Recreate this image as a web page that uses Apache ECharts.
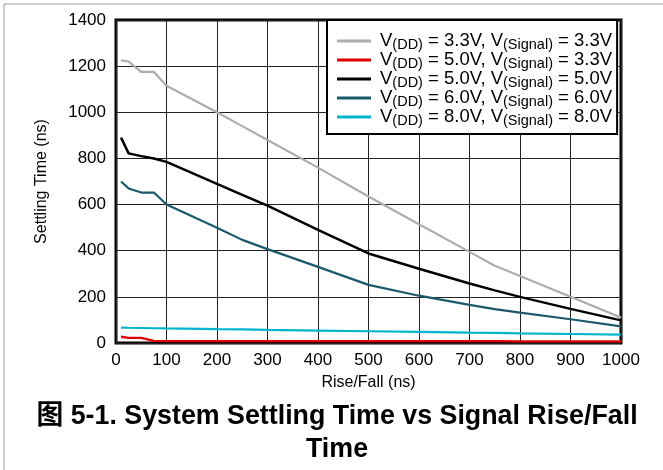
<!DOCTYPE html>
<html><head><meta charset="utf-8">
<script src="https://cdn.jsdelivr.net/npm/echarts@6/dist/echarts.min.js"></script>
<style>html,body{margin:0;padding:0;background:#fff}#c{width:663px;height:470px}</style>
</head><body><div id="c"></div>
<script>
var riseFall = [10, 25, 50, 75, 100, 200, 250, 300, 400, 500, 600, 700, 750, 800, 900, 1000];
var vdd33sig33 = [1225, 1220, 1175, 1175, 1115, 1000, 940, 880, 760, 635, 515, 395, 335, 290, 200, 110];
var vdd50sig33 = [27, 22, 22, 9, 8, 8, 8, 8, 8, 8, 8, 8, 8, 7, 7, 7];
var vdd50sig50 = [890, 822, 810, 800, 785, 690, 642, 595, 490, 388, 322, 258, 228, 200, 148, 98];
var vdd60sig60 = [700, 670, 652, 652, 600, 500, 447, 407, 330, 252, 205, 165, 147, 132, 103, 72];
var vdd80sig80 = [67, 66, 65, 64, 63, 60, 59, 57, 54, 51, 48, 45, 44, 42, 39, 36];
var seriesNames = ['a', 'b', 'c', 'd', 'e'];
var vddLabels = ['3.3V', '5.0V', '5.0V', '6.0V', '8.0V'];
var sigLabels = ['3.3V', '3.3V', '5.0V', '6.0V', '8.0V'];
var seriesColors = ['#adadad', '#e00000', '#000000', '#1b5a6b', '#00b5cc'];
var seriesWidths = [2.2, 2.4, 2.5, 2.2, 2.2];
var seriesData = [vdd33sig33, vdd50sig33, vdd50sig50, vdd60sig60, vdd80sig80];
var xTicks = [0, 100, 200, 300, 400, 500, 600, 700, 800, 900, 1000];
var yTicks = [0, 200, 400, 600, 800, 1000, 1200, 1400];

var FONT = 'Arial, "Liberation Sans", Helvetica, sans-serif';
var chart = echarts.init(document.getElementById('c'), null, {renderer: 'canvas'});
var series = seriesNames.map(function (n, i) {
  return {
    name: n, type: 'line', showSymbol: false, symbol: 'none',
    lineStyle: {color: seriesColors[i], width: seriesWidths[i]},
    itemStyle: {color: seriesColors[i]},
    data: riseFall.map(function (x, j) { return [x, seriesData[i][j]]; }),
    z: 3
  };
});
chart.setOption({
  animation: false,
  backgroundColor: '#fff',
  title: {
    text: '图 5-1. System Settling Time vs Signal Rise/Fall\nTime',
    left: 332, top: 395, textAlign: 'center',
    textStyle: {fontFamily: FONT + ', "Noto Sans CJK SC"', fontWeight: 'bold', fontSize: 26.8, lineHeight: 33, color: '#000'}
  },
  grid: {left: 116, right: 42, top: 20, bottom: 127, show: true, borderColor: '#000', borderWidth: 3, backgroundColor: 'transparent'},
  xAxis: {
    type: 'value', min: 0, max: 1000, interval: 100,
    name: 'Rise/Fall (ns)', nameLocation: 'middle', nameGap: 32,
    nameTextStyle: {fontFamily: FONT, fontSize: 16, color: '#000'},
    axisLine: {show: false}, axisTick: {show: false},
    axisLabel: {fontFamily: FONT, fontSize: 17, color: '#000', margin: 9,
      formatter: function (v) { return xTicks.indexOf(v) >= 0 ? String(v) : ''; }},
    splitLine: {show: true, lineStyle: {color: '#222', width: 1}}
  },
  yAxis: {
    type: 'value', min: 0, max: 1400, interval: 200,
    name: 'Settling Time (ns)', nameLocation: 'middle', nameGap: 66, nameRotate: 90,
    nameTextStyle: {fontFamily: FONT, fontSize: 16, color: '#000'},
    axisLine: {show: false}, axisTick: {show: false},
    axisLabel: {fontFamily: FONT, fontSize: 17, color: '#000', margin: 10,
      formatter: function (v) { return yTicks.indexOf(v) >= 0 ? String(v) : ''; }},
    splitLine: {show: true, lineStyle: {color: '#222', width: 1}}
  },
  legend: {
    orient: 'vertical', left: 327, top: 20,
    data: seriesNames,
    icon: 'rect', itemWidth: 34, itemHeight: 3, itemGap: -3,
    padding: [10, 5, 6, 10],
    backgroundColor: '#fff', borderColor: '#000', borderWidth: 2,
    z: 10,
    formatter: function (name) {
      var i = seriesNames.indexOf(name);
      return '{m|V}{s|(DD)}{m| = ' + vddLabels[i] + ', V}{s|(Signal)}{m| = ' + sigLabels[i] + '}';
    },
    textStyle: {
      fontFamily: FONT, color: '#000', padding: [0, 0, 0, 4],
      rich: {
        m: {fontFamily: FONT, fontSize: 18.5, lineHeight: 19, color: '#000'},
        s: {fontFamily: FONT, fontSize: 14.5, lineHeight: 12, color: '#000', padding: [7, 0, 0, 0]}
      }
    }
  },
  graphic: [
    {type: 'line', shape: {x1: 4, y1: 4, x2: 663, y2: 4}, style: {stroke: '#999', lineWidth: 1}},
    {type: 'line', shape: {x1: 4, y1: 4, x2: 4, y2: 470}, style: {stroke: '#999', lineWidth: 1}}
  ],
  series: series
});
</script></body></html>
